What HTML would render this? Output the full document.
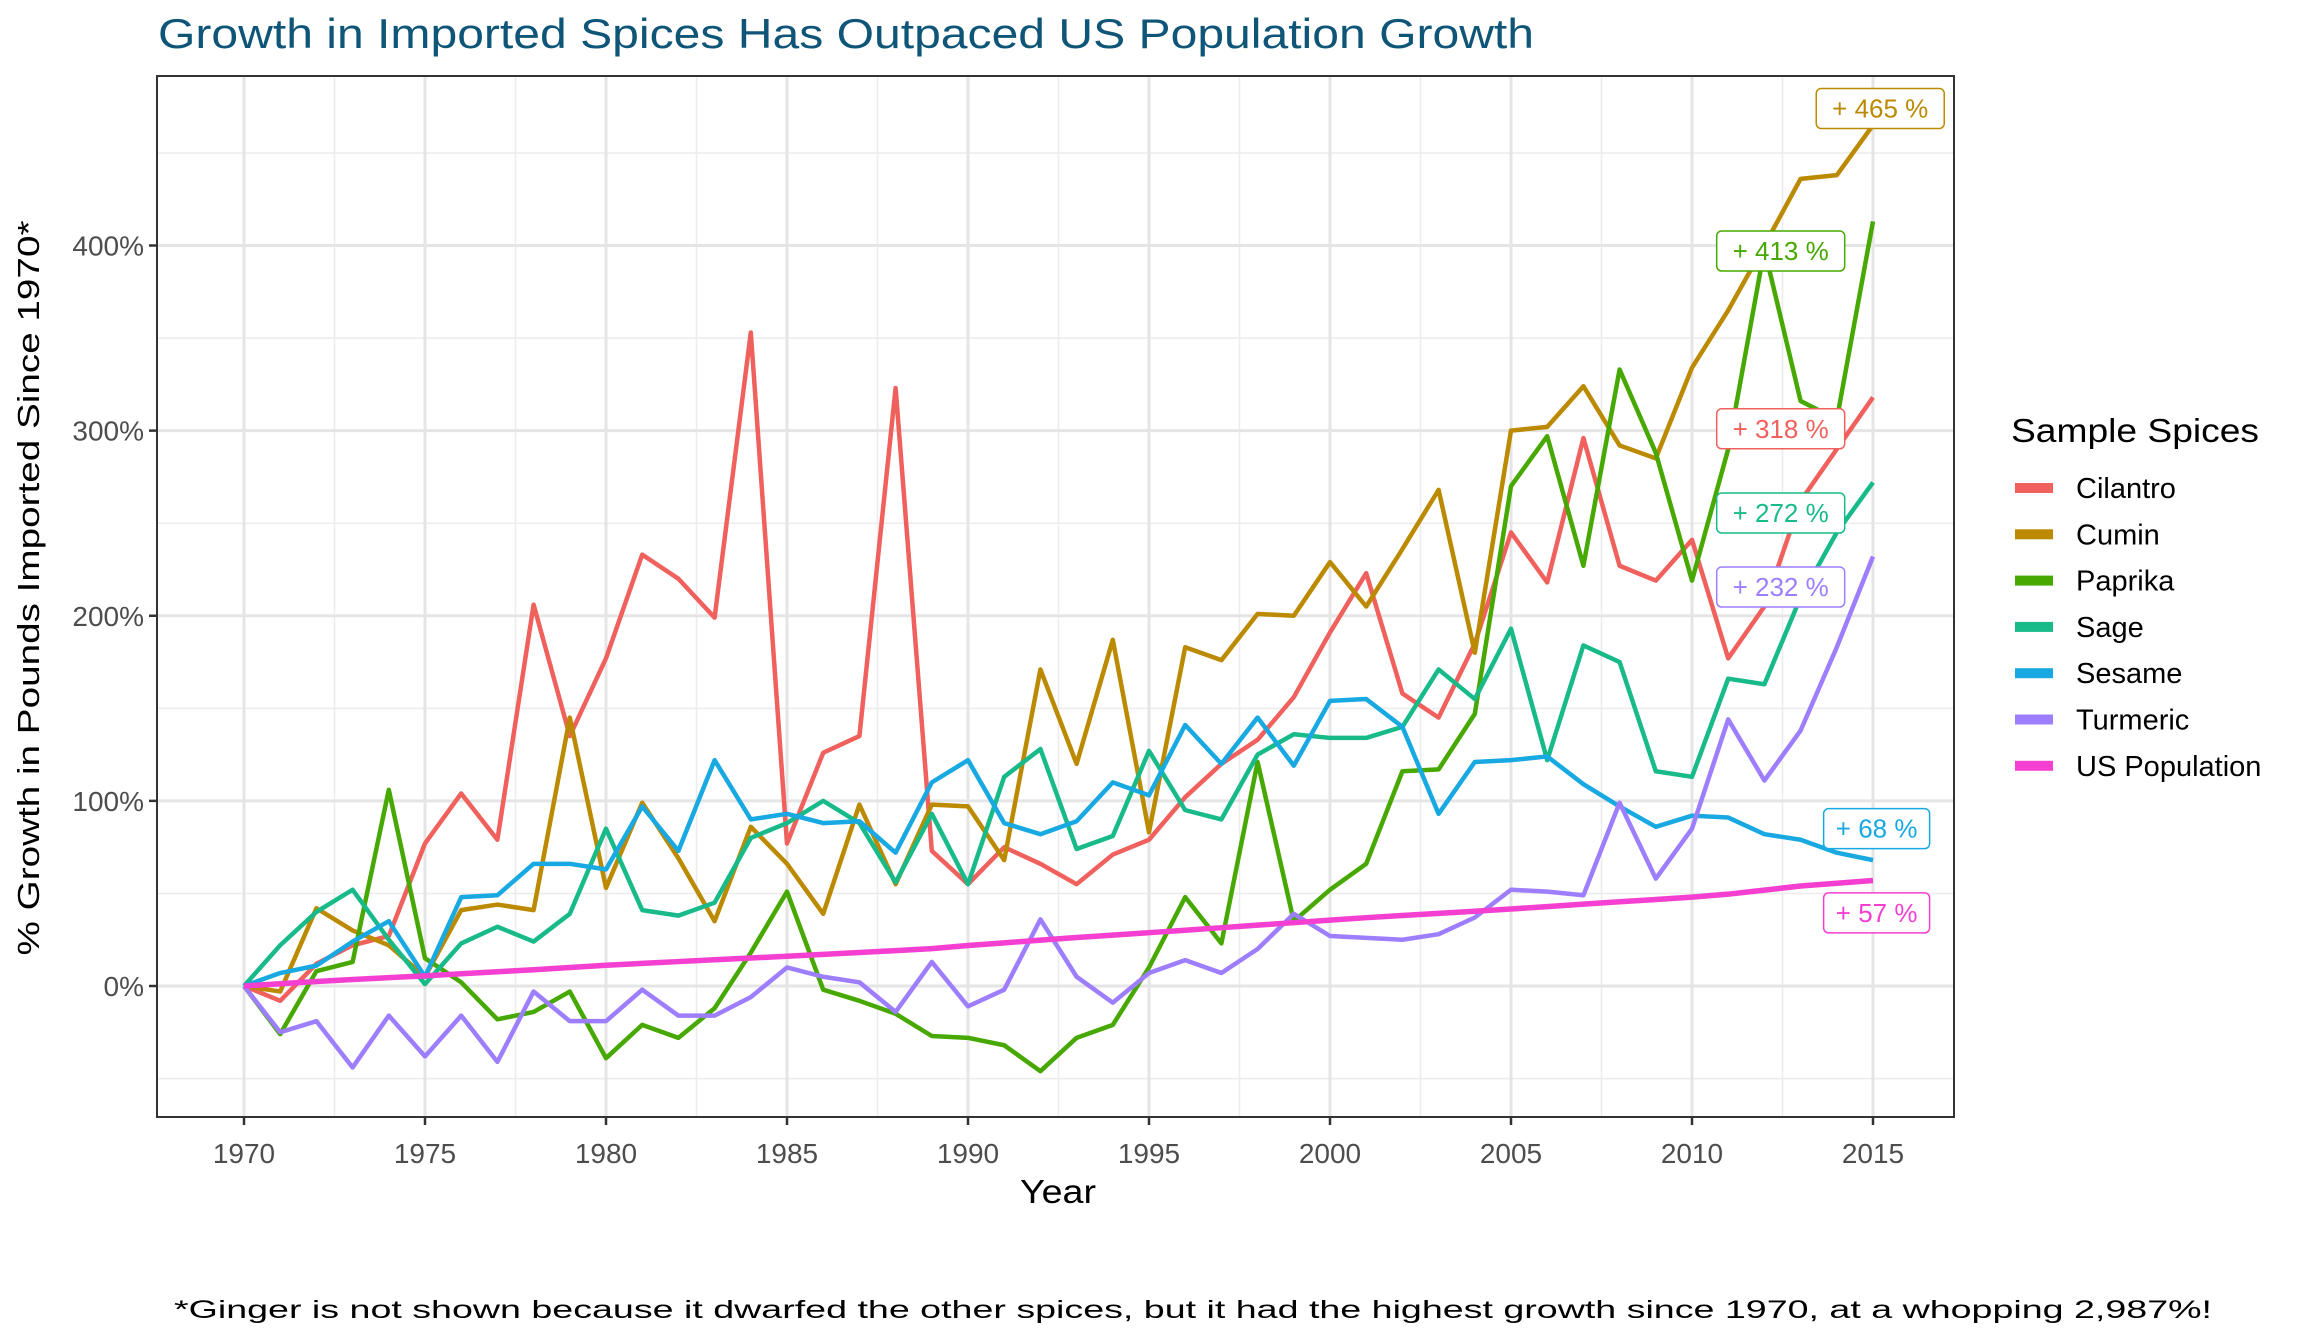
<!DOCTYPE html>
<html><head><meta charset="utf-8"><style>
html,body{margin:0;padding:0;background:#fff;}
svg{display:block;font-family:"Liberation Sans",Arial,sans-serif;}
</style></head><body>
<svg id="chart" width="2304" height="1344" viewBox="0 0 2304 1344" xmlns="http://www.w3.org/2000/svg">
<text x="158" y="48" font-size="42" fill="#0E5578" textLength="1376" lengthAdjust="spacingAndGlyphs">Growth in Imported Spices Has Outpaced US Population Growth</text>
<g id="grid"></g>
<g id="series"></g>
<g id="labels"></g>
<rect x="157" y="76" width="1797" height="1041" fill="none" stroke="#333" stroke-width="2"/>
<g id="axes"></g>
<text x="1058" y="1203" font-size="33" text-anchor="middle" fill="#000" textLength="76" lengthAdjust="spacingAndGlyphs">Year</text>
<text transform="translate(39,588) rotate(-90)" font-size="31" text-anchor="middle" fill="#000" textLength="735" lengthAdjust="spacingAndGlyphs">% Growth in Pounds Imported Since 1970*</text>
<text x="2011" y="442" font-size="33" fill="#000" textLength="248" lengthAdjust="spacingAndGlyphs">Sample Spices</text>
<g id="legend"></g>
<text x="174" y="1318" font-size="25" fill="#000" textLength="2038" lengthAdjust="spacingAndGlyphs">*Ginger is not shown because it dwarfed the other spices, but it had the highest growth since 1970, at a whopping 2,987%!</text>
</svg>
<script>
const years=[1970,1971,1972,1973,1974,1975,1976,1977,1978,1979,1980,1981,1982,1983,1984,1985,1986,1987,1988,1989,1990,1991,1992,1993,1994,1995,1996,1997,1998,1999,2000,2001,2002,2003,2004,2005,2006,2007,2008,2009,2010,2011,2012,2013,2014,2015];
const seriesNames=["Cilantro","Cumin","Paprika","Sage","Sesame","Turmeric","US Population"];
const cilantro=[0,-8,12,22,27,77,104,79,206,135,177,233,220,199,353,77,126,135,323,73,55,75,66,55,71,79,102,120,133,156,191,223,158,145,185,245,218,296,227,219,241,177,205,262,290,318];
const cumin=[0,-3,42,30,22,5,41,44,41,145,53,99,69,35,86,66,39,98,55,98,97,68,171,120,187,83,183,176,201,200,229,205,236,268,180,300,302,324,292,285,334,365,400,436,438,465];
const paprika=[0,-26,8,13,106,15,2,-18,-14,-3,-39,-21,-28,-12,18,51,-2,-8,-15,-27,-28,-32,-46,-28,-21,10,48,23,121,35,52,66,116,117,147,270,297,227,333,288,219,290,398,316,306,413];
const sage=[0,22,40,52,25,1,23,32,24,39,85,41,38,45,80,88,100,88,56,93,55,113,128,74,81,127,95,90,125,136,134,134,140,171,155,193,122,184,175,116,113,166,163,210,245,272];
const sesame=[0,7,11,24,35,5,48,49,66,66,63,97,73,122,90,93,88,89,72,110,122,88,82,89,110,103,141,120,145,119,154,155,140,93,121,122,124,109,97,86,92,91,82,79,72,68];
const turmeric=[0,-25,-19,-44,-16,-38,-16,-41,-3,-19,-19,-2,-16,-16,-6,10,5,2,-14,13,-11,-2,36,5,-9,7,14,7,20,39,27,26,25,28,37,52,51,49,99,58,85,144,111,138,183,232];
const usPop=[0,1.2,2.4,3.5,4.5,5.5,6.6,7.7,8.8,10,11.2,12.2,13.2,14.2,15.1,16.1,17.1,18.1,19.1,20.2,21.9,23.3,24.8,26.2,27.5,28.8,30.1,31.5,32.9,34.2,35.6,36.9,38.1,39.2,40.4,41.6,42.9,44.2,45.5,46.7,48,49.6,51.8,54,55.5,57];
const xTicks=[1970,1975,1980,1985,1990,1995,2000,2005,2010,2015];
const yTicks=[0,100,200,300,400];
const yTickLabels=["0%","100%","200%","300%","400%"];
const endLabels=["+ 318 %","+ 465 %","+ 413 %","+ 272 %","+ 68 %","+ 232 %","+ 57 %"];
const colors=["#F0605D","#BC8A00","#46A800","#19BA8A","#18A8E2","#9D7EFF","#F43FD1"];
const labelPos=[[2012.45,301],[2015.2,474],[2012.45,397],[2012.45,255.5],[2015.1,85],[2012.45,215.5],[2015.1,39.5]];

const NS="http://www.w3.org/2000/svg";
const L=157,R=1954,T=76,B=1117;
const x=v=>244+(v-1970)*(1873-244)/45;
const y=v=>986-v*(986-245.5)/400;
function mk(tag,attrs,parent){const e=document.createElementNS(NS,tag);for(const k in attrs)e.setAttribute(k,attrs[k]);parent.appendChild(e);return e;}
const grid=document.getElementById('grid'),axes=document.getElementById('axes');
mk('rect',{x:L,y:T,width:R-L,height:B-T,fill:'#fff'},grid);
for(let v=-50;v<=450;v+=100){const g=mk('line',{x1:L,x2:R,y1:y(v),y2:y(v),stroke:'#ececec','stroke-width':1.5},grid);

}
for(let yr=1967.5;yr<=2017.5;yr+=5){if(x(yr)<L||x(yr)>R)continue;const g=mk('line',{x1:x(yr),x2:x(yr),y1:T,y2:B,stroke:'#ececec','stroke-width':1.5},grid);

}
yTicks.forEach((v,i)=>{const g=mk('line',{x1:L,x2:R,y1:y(v),y2:y(v),stroke:'#e5e5e5','stroke-width':3},grid);


const t=mk('line',{x1:L-8,x2:L,y1:y(v),y2:y(v),stroke:'#333','stroke-width':2.5},axes);


const tl=mk('text',{x:L-13,y:y(v)+10,'font-size':28,'text-anchor':'end',fill:'#4d4d4d'},axes);
tl.textContent=yTickLabels[i];

});
xTicks.forEach(v=>{const g=mk('line',{x1:x(v),x2:x(v),y1:T,y2:B,stroke:'#e5e5e5','stroke-width':3},grid);


const t=mk('line',{x1:x(v),x2:x(v),y1:B,y2:B+8,stroke:'#333','stroke-width':2.5},axes);


const tl=mk('text',{x:x(v),y:B+46,'font-size':28,'text-anchor':'middle',fill:'#4d4d4d'},axes);
tl.textContent=v;

});
const data=[cilantro,cumin,paprika,sage,sesame,turmeric,usPop];
const sg=document.getElementById('series');
data.forEach((arr,i)=>{const p=mk('polyline',{points:arr.map((v,j)=>x(years[j])+','+y(v)).join(' '),fill:'none',stroke:colors[i],'stroke-width':i==6?5.5:4.5,'stroke-linejoin':'round'},sg);

});
const lg=document.getElementById('labels');
endLabels.forEach((s,i)=>{const cx=x(labelPos[i][0]),cy=y(labelPos[i][1]);const w=s.length>6?128:106;
const r=mk('rect',{x:cx-w/2,y:cy-20,width:w,height:40,rx:5,fill:'#fff',stroke:colors[i],'stroke-width':1.5},lg);


const t=mk('text',{x:cx,y:cy+9,'font-size':26,'text-anchor':'middle',fill:colors[i]},lg);
t.textContent=s;

});
const leg=document.getElementById('legend');
seriesNames.forEach((n,i)=>{const yy=488+i*46.3;
const k=mk('rect',{x:2015,y:yy-5,width:38,height:10,fill:colors[i]},leg);


const t=mk('text',{x:2076,y:yy+10,'font-size':29,fill:'#000'},leg);
t.textContent=n;

});
</script>
</body></html>
